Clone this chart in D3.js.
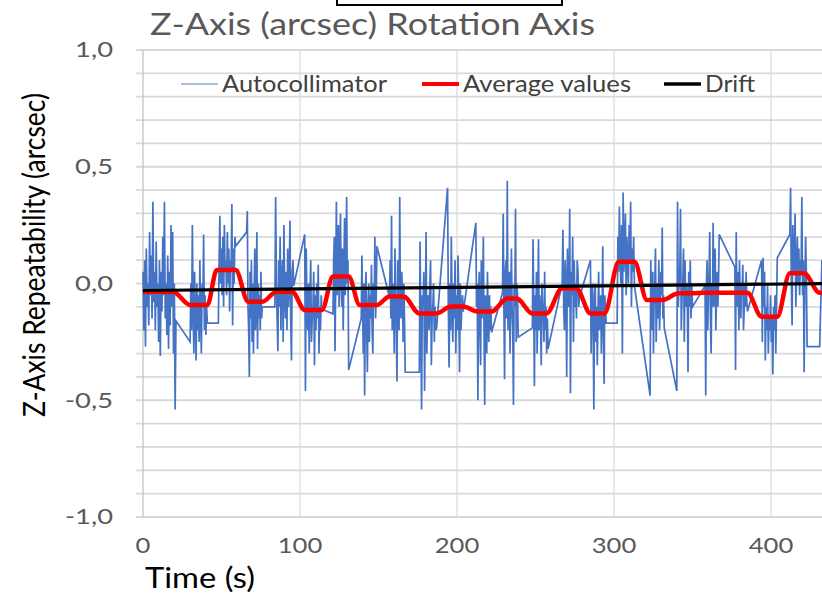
<!DOCTYPE html>
<html>
<head>
<meta charset="utf-8">
<style>
  body { margin: 0; background: #fff; }
  svg { display: block; font-family: Lato, "Open Sans", sans-serif; }
</style>
</head>
<body>
<script src="https://cdn.jsdelivr.net/npm/d3@7"></script>
<script>

// --- data -----------------------------------------------------------------

// tick labels
var xTicks = [0, 100, 200, 300, 400];
var yTicks = [-1.0, -0.5, 0.0, 0.5, 1.0];

// autocollimator: the signal comes in bursts, one per measurement position
var burstStart = [0, 30, 48, 66, 84, 103, 121, 139, 157, 176, 194, 212,
                  229, 248, 267, 285, 302, 323, 340, 358, 377, 394, 412, 431];
var burstEnd   = [21, 41, 59, 76, 96, 114, 131, 149, 167, 187, 204, 222,
                  239, 258, 278, 295, 313, 332, 350, 367, 385, 404, 423, 441];
var burstValues = [
  [0.05, -0.2, 0.1, -0.27, 0.15, -0.1, 0.0, -0.18, 0.22, -0.05, 0.12, -0.15, 0.35, -0.08, 0.05, -0.2, 0.18, -0.1, 0.0, -0.25,
   0.1, -0.31, 0.05, -0.12, 0.2, -0.05, 0.35, -0.15, 0.0, -0.22, 0.12, -0.28, 0.05, -0.18, 0.25, -0.1, 0.22, -0.3, 0.0, -0.54, -0.16],
  [-0.25, 0.0, -0.2, 0.25, -0.1, -0.3, 0.05, -0.15, -0.33, 0.0, -0.2, -0.05, -0.25, 0.1, -0.15, -0.3, 0.0, -0.1, 0.21, -0.2, -0.05, -0.22, -0.1, -0.17],
  [-0.17, 0.1, 0.29, 0.0, 0.15, -0.05, 0.2, -0.1, 0.25, 0.05, 0.1, -0.05, 0.22, 0.0, 0.15, -0.12, 0.1, 0.05, 0.34, -0.18, 0.15, 0.0, 0.2, 0.16],
  [0.22, 0.31, -0.1, -0.2, -0.4, 0.05, -0.15, 0.1, -0.25, 0.0, -0.3, -0.05, 0.15, -0.2, -0.1, 0.22, -0.28, 0.0, -0.15, -0.05, -0.2, 0.05, -0.15, -0.1],
  [-0.1, 0.37, 0.0, -0.15, -0.29, 0.1, -0.1, 0.2, -0.2, 0.0, 0.1, -0.25, 0.25, -0.05, -0.15, 0.05, -0.2, 0.15, -0.1, 0.0, 0.27, -0.15, -0.33, 0.05, 0.1, -0.01],
  [0.21, -0.46, 0.15, -0.1, -0.2, 0.0, -0.3, -0.05, 0.1, -0.25, -0.15, -0.1, 0.05, -0.35, -0.05, -0.2, 0.0, -0.15, 0.08, -0.3, -0.1, -0.2, -0.05, -0.11],
  [-0.13, 0.1, 0.2, -0.29, 0.0, 0.35, -0.05, 0.15, 0.25, -0.1, 0.05, 0.3, 0.0, -0.1, 0.15, -0.2, 0.05, 0.28, -0.05, 0.1, 0.37, 0.0, 0.1, -0.37],
  [-0.15, 0.12, -0.1, -0.3, 0.0, -0.48, -0.05, 0.05, -0.2, -0.38, -0.1, 0.0, -0.25, -0.05, -0.15, 0.08, -0.2, -0.3, 0.0, -0.1, 0.2, -0.15, -0.05, 0.16],
  [-0.06, 0.1, -0.15, 0.29, -0.2, 0.0, -0.1, -0.3, 0.15, -0.05, -0.2, -0.42, 0.1, 0.0, -0.2, 0.37, -0.1, -0.15, 0.05, -0.05, -0.25, 0.0, -0.15, -0.38],
  [-0.38, 0.18, -0.2, -0.54, -0.05, -0.1, 0.05, -0.46, -0.15, 0.22, -0.3, -0.1, -0.05, -0.2, 0.0, 0.1, -0.35, -0.15, -0.1, 0.0, -0.25, -0.1, -0.2, -0.19],
  [0.41, -0.1, -0.36, 0.0, -0.2, 0.2, -0.1, -0.25, 0.0, -0.15, 0.1, -0.3, -0.05, -0.2, 0.12, -0.1, -0.38, 0.0, -0.2, -0.1, -0.05, -0.12],
  [0.26, -0.1, 0.0, -0.5, -0.05, 0.05, -0.2, -0.35, 0.1, -0.15, -0.05, 0.2, -0.2, -0.52, -0.05, -0.1, -0.3, 0.05, -0.15, -0.25, -0.05, -0.2, -0.1, -0.21],
  [-0.04, 0.3, -0.1, -0.41, 0.05, 0.1, -0.15, 0.44, -0.2, 0.0, 0.05, -0.3, -0.1, 0.15, -0.1, -0.2, -0.52, 0.0, -0.1, 0.32, -0.25, 0.0, -0.05, -0.23],
  [-0.19, 0.19, -0.1, -0.44, -0.05, -0.2, 0.05, -0.3, -0.1, 0.19, -0.2, -0.05, -0.15, -0.35, 0.0, -0.1, -0.15, -0.25, 0.05, -0.2, -0.1, -0.3, -0.15, -0.28],
  [0.0, 0.23, -0.1, -0.2, 0.1, 0.0, -0.4, 0.15, -0.05, -0.1, 0.32, -0.47, 0.05, -0.05, 0.2, -0.25, 0.1, -0.1, 0.0, -0.15, 0.1, 0.05, -0.1, -0.06],
  [0.1, -0.3, -0.1, 0.0, -0.2, -0.54, -0.05, 0.0, -0.25, -0.1, -0.35, -0.15, 0.05, -0.2, -0.1, -0.05, -0.3, -0.15, 0.16, -0.2, -0.43, -0.05, -0.1, -0.17],
  [-0.17, 0.2, 0.05, 0.33, 0.1, 0.0, 0.25, -0.3, 0.39, 0.05, 0.15, 0.3, -0.05, 0.2, 0.1, 0.0, 0.25, 0.1, 0.35, -0.1, 0.15, 0.05, 0.2, -0.01],
  [-0.48, 0.1, -0.1, -0.2, 0.05, -0.3, -0.05, 0.0, 0.15, -0.25, -0.1, 0.0, -0.15, 0.1, -0.2, -0.1, 0.05, -0.05, 0.24, -0.15, -0.05, -0.19],
  [-0.46, 0.35, -0.1, 0.0, 0.05, 0.32, -0.2, -0.05, 0.0, 0.15, -0.25, 0.1, -0.1, 0.0, -0.05, -0.38, 0.05, -0.1, 0.1, -0.15, 0.0, -0.1],
  [-0.01, -0.48, 0.0, 0.1, -0.2, -0.05, 0.05, 0.22, -0.15, -0.3, 0.0, -0.1, 0.26, -0.1, 0.0, 0.15, -0.2, -0.05, 0.05, -0.1, 0.0, 0.21],
  [0.07, -0.37, 0.22, -0.1, 0.0, 0.05, -0.2, 0.1, -0.05, -0.15, 0.0, -0.05, 0.08, -0.2, -0.12, 0.0, -0.1, 0.05, -0.08, -0.12],
  [0.1, -0.25, 0.11, -0.1, 0.05, -0.33, -0.1, -0.2, 0.0, -0.3, -0.15, -0.2, -0.05, -0.25, -0.15, -0.39, -0.1, -0.2, -0.05, -0.3, -0.1, 0.11],
  [0.21, 0.41, 0.0, -0.18, 0.25, 0.05, 0.1, 0.3, -0.1, 0.05, 0.2, 0.0, 0.15, -0.05, 0.1, 0.05, 0.37, -0.05, 0.1, -0.38, 0.0, 0.2, 0.05, -0.27],
  [-0.27, 0.1, -0.3, 0.15, -0.1, 0.2, -0.2, 0.05]
];

// average values (plateau corners)
var avgTime  = [0, 19, 30, 41, 47, 59, 67, 76, 85, 95, 103, 114, 121, 131, 138, 149,
                157, 166, 176, 187, 196, 204, 213, 222, 232, 238, 248, 257, 267, 276,
                285, 294, 303, 313, 321, 331, 341, 350, 357, 367, 375, 385, 394, 404,
                412, 421, 431, 440];
var avgValue = [-0.035, -0.035, -0.092, -0.092, 0.058, 0.058, -0.078, -0.078, -0.035, -0.035,
                -0.113, -0.113, 0.03, 0.03, -0.092, -0.092, -0.056, -0.056, -0.128, -0.128,
                -0.099, -0.099, -0.12, -0.12, -0.064, -0.064, -0.128, -0.128, -0.02, -0.02,
                -0.128, -0.128, 0.093, 0.093, -0.071, -0.071, -0.042, -0.042, -0.04, -0.04,
                -0.04, -0.04, -0.142, -0.142, 0.044, 0.044, -0.04, -0.04];

// drift
var driftTime  = [0, 440];
var driftValue = [-0.03, 0.0];

// --- chart ------------------------------------------------------------------

var width = 822, height = 594;

var x = d3.scaleLinear().domain([0, 500]).range([143, 928]);
var y = d3.scaleLinear().domain([-1, 1]).range([517, 50]);

var locale = d3.formatLocale({decimal: ",", thousands: ".", grouping: [3], currency: ["", ""], minus: "-"});
var fmt = locale.format(".1f");

// the picture is a bit wider than tall, so the text is stretched sideways
function stretch(sel, f) {
    sel.each(function () {
        var len = this.getComputedTextLength();
        d3.select(this).attr("textLength", len * f).attr("lengthAdjust", "spacingAndGlyphs");
    });
}

var svg = d3.select("body").append("svg")
    .attr("width", width)
    .attr("height", height);

svg.append("rect").attr("width", width).attr("height", height).attr("fill", "#fff");

// gridlines
svg.append("g")
    .selectAll("line")
    .data(y.ticks(20))
    .join("line")
    .attr("x1", 136).attr("x2", width)
    .attr("y1", function (d) { return y(d); })
    .attr("y2", function (d) { return y(d); })
    .attr("stroke", "#d9d9d9")
    .attr("stroke-width", 1.8);

svg.append("g")
    .selectAll("line")
    .data(xTicks.slice(1))
    .join("line")
    .attr("x1", function (d) { return x(d); })
    .attr("x2", function (d) { return x(d); })
    .attr("y1", y(1)).attr("y2", y(-1))
    .attr("stroke", "#d9d9d9")
    .attr("stroke-width", 1.2);

// y axis line
svg.append("line")
    .attr("x1", x(0)).attr("x2", x(0))
    .attr("y1", y(1)).attr("y2", y(-1))
    .attr("stroke", "#bfbfbf")
    .attr("stroke-width", 1.2);

// tick labels
svg.append("g")
    .selectAll("text")
    .data(yTicks)
    .join("text")
    .attr("x", 113)
    .attr("y", function (d) { return y(d); })
    .attr("dy", "0.35em")
    .attr("text-anchor", "end")
    .attr("font-size", 21)
    .attr("fill", "#595959")
    .text(function (d) { return fmt(d); })
    .call(stretch, 1.3);

svg.append("g")
    .selectAll("text")
    .data(xTicks)
    .join("text")
    .attr("x", function (d) { return x(d); })
    .attr("y", 546)
    .attr("dy", "0.35em")
    .attr("text-anchor", "middle")
    .attr("font-size", 21)
    .attr("fill", "#595959")
    .text(function (d) { return d; })
    .call(stretch, 1.22);

// autocollimator points
var points = [];
burstValues.forEach(function (vals, b) {
    var n = vals.length;
    vals.forEach(function (v, i) {
        points.push([burstStart[b] + i * (burstEnd[b] - burstStart[b]) / (n - 1), v]);
    });
});

var line = d3.line()
    .x(function (d) { return x(d[0]); })
    .y(function (d) { return y(d[1]); });

svg.append("path")
    .attr("d", line(points))
    .attr("fill", "none")
    .attr("stroke", "#4472C4")
    .attr("stroke-width", 1.7);

svg.append("path")
    .attr("d", line.curve(d3.curveMonotoneX)(avgTime.map(function (t, i) { return [t, avgValue[i]]; })))
    .attr("fill", "none")
    .attr("stroke", "#ff0000")
    .attr("stroke-width", 4.5)
    .attr("stroke-linejoin", "round");

svg.append("path")
    .attr("d", line.curve(d3.curveLinear)(driftTime.map(function (t, i) { return [t, driftValue[i]]; })))
    .attr("fill", "none")
    .attr("stroke", "#000")
    .attr("stroke-width", 3.2);

// legend
var legendItems = [
    {name: "Autocollimator", color: "#8ea5d6", w: 1.4, x: 181, len: 165},
    {name: "Average values", color: "#ff0000", w: 4, x: 422, len: 168},
    {name: "Drift", color: "#000", w: 3.5, x: 664, len: 50}
];
var lg = svg.append("g").selectAll("g").data(legendItems).join("g");
lg.append("line")
    .attr("x1", function (d) { return d.x; })
    .attr("x2", function (d) { return d.x + 37; })
    .attr("y1", 84).attr("y2", 84)
    .attr("stroke", function (d) { return d.color; })
    .attr("stroke-width", function (d) { return d.w; });
lg.append("text")
    .attr("x", function (d) { return d.x + 41; })
    .attr("y", 84)
    .attr("dy", "0.35em")
    .attr("font-size", 23.5)
    .attr("fill", "#404040")
    .attr("textLength", function (d) { return d.len; })
    .attr("lengthAdjust", "spacingAndGlyphs")
    .text(function (d) { return d.name; });

// title and axis titles
svg.append("text")
    .attr("x", 150).attr("y", 35)
    .attr("font-size", 30)
    .attr("fill", "#595959")
    .attr("textLength", 445)
    .attr("lengthAdjust", "spacingAndGlyphs")
    .text("Z-Axis (arcsec) Rotation Axis");

svg.append("text")
    .attr("transform", "translate(45,255) scale(1.2,1) rotate(-90)")
    .attr("text-anchor", "middle")
    .attr("font-size", 26)
    .attr("fill", "#000")
    .attr("textLength", 324)
    .attr("lengthAdjust", "spacingAndGlyphs")
    .text("Z-Axis Repeatability (arcsec)");

svg.append("text")
    .attr("x", 145).attr("y", 588)
    .attr("font-size", 28)
    .attr("fill", "#000")
    .attr("textLength", 110)
    .attr("lengthAdjust", "spacingAndGlyphs")
    .text("Time (s)");

// box cut by the top edge
svg.append("path")
    .attr("d", "M337,-2V5H562V-2")
    .attr("fill", "none")
    .attr("stroke", "#000")
    .attr("stroke-width", 2);

</script>
</body>
</html>
